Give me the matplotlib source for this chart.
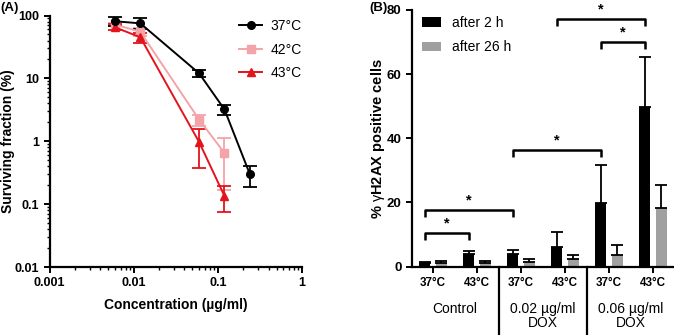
import numpy as np
import matplotlib
matplotlib.use("Agg")
import matplotlib.pyplot as plt
from matplotlib.patches import Patch
from matplotlib.lines import Line2D

plt.rcParams['font.family'] = ['Liberation Sans', 'DejaVu Sans']
plt.rcParams['mathtext.fontset'] = 'custom'
plt.rcParams['mathtext.rm'] = 'Liberation Sans'
plt.rcParams['mathtext.it'] = 'Liberation Sans'

# ---------------- data: panel A ----------------
conc37 = [0.006, 0.012, 0.06, 0.12, 0.24]
sf37 = [81, 75, 12, 3.2, 0.30]
err37 = [12.5, 15, 1.5, 0.55, 0.11]
conc42 = [0.006, 0.012, 0.06, 0.12]
sf42 = [72, 55, 2.2, 0.65]
err42 = [5, 8, 0.45, 0.48]
conc43 = [0.006, 0.012, 0.06, 0.12]
sf43 = [65, 45, 0.97, 0.134]
err43 = [7, 8, 0.6, 0.06]
series_labels = ["37°C", "42°C", "43°C"]

# ---------------- data: panel B ----------------
temp_ticks = ["37°C", "43°C", "37°C", "43°C", "37°C", "43°C"]
group_labels = ["Control", "0.02 µg/ml\nDOX", "0.06 µg/ml\nDOX"]
after2h = [1.3, 3.9, 3.9, 6.2, 19.7, 49.8]
err2h = [0.3, 0.9, 1.3, 4.5, 12.0, 15.6]
after26h = [1.2, 1.0, 1.5, 2.5, 3.6, 18.4]
err26h = [0.6, 0.8, 0.8, 1.2, 3.3, 7.0]
# significance brackets: (bar index 1, bar index 2, height)
brackets = [(0, 1, 10.4), (0, 2, 17.6), (2, 4, 36.3), (4, 5, 70.0), (3, 5, 77.0)]

W, H = 674, 335
fig = plt.figure(figsize=(W / 100, H / 100), dpi=100)

# ================= Panel A =================
axA = fig.add_axes([49.5 / W, (H - 267) / H, 252.5 / W, 251.5 / H])
c37, c42, c43 = "#000000", "#f4a3a8", "#e3141c"
lw = 1.4
ebA = dict(capsize=5, elinewidth=1.3, capthick=1.3)
axA.errorbar(conc42, sf42, yerr=err42, color=c42, marker="s", ms=5.5, lw=lw, **ebA)
axA.errorbar(conc43, sf43, yerr=err43, color=c43, marker="^", ms=5.5, lw=lw, **ebA)
axA.errorbar(conc37, sf37, yerr=err37, color=c37, marker="o", ms=5.5, lw=lw, **ebA)
axA.set_xscale("log")
axA.set_yscale("log")
axA.set_xlim(0.001, 1)
axA.set_ylim(0.01, 100)
axA.set_xticks([0.001, 0.01, 0.1, 1])
axA.set_xticklabels(["0.001", "0.01", "0.1", "1"])
axA.set_yticks([0.01, 0.1, 1, 10, 100])
axA.set_yticklabels(["0.01", "0.1", "1", "10", "100"])
for s in ["top", "right"]:
    axA.spines[s].set_visible(False)
for s in ["left", "bottom"]:
    axA.spines[s].set_linewidth(1.6)
axA.tick_params(which="major", length=4, width=1.4, labelsize=9)
axA.tick_params(which="minor", length=2.5, width=1.0)
for t in axA.get_xticklabels() + axA.get_yticklabels():
    t.set_fontweight("bold")
axA.set_xlabel("Concentration (µg/ml)", fontsize=10, fontweight="bold", labelpad=6)
axA.set_ylabel("Surviving fraction (%)", fontsize=10, fontweight="bold")
axA.yaxis.set_label_coords((15 - 49.5) / 252.5, 0.5)
handles = [Line2D([], [], color=c, marker=m, ms=5.5, lw=lw)
           for c, m in zip([c37, c42, c43], ["o", "s", "^"])]
axA.legend(handles, series_labels, loc="upper left", bbox_to_anchor=(0.70, 1.035),
           frameon=False, fontsize=10, handlelength=1.7, handletextpad=0.6,
           labelspacing=0.68)
fig.text(0 / W, 1 - 8 / H, "(A)", fontsize=9.5, fontweight="bold", va="center", ha="left")

# ================= Panel B =================
axB = fig.add_axes([412 / W, (H - 266.7) / H, 262 / W, 256.9 / H])
x = np.arange(len(after2h))
off = 0.1875
bw = 0.25
axB.bar(x - off, after2h, width=bw, color="black",
        yerr=[np.zeros(len(err2h)), err2h], capsize=4,
        error_kw=dict(elinewidth=1.3, capthick=1.3, ecolor="black"))
axB.bar(x + off, after26h, width=bw, color="#a0a0a0",
        yerr=[np.zeros(len(err26h)), err26h], capsize=4,
        error_kw=dict(elinewidth=1.3, capthick=1.3, ecolor="black"))
axB.set_xlim(-21 / 44, -21 / 44 + 262 / 44)
axB.set_ylim(0, 80)
axB.set_yticks([0, 20, 40, 60, 80])
axB.set_xticks(x)
axB.set_xticklabels(temp_ticks)
for s in ["top", "right"]:
    axB.spines[s].set_visible(False)
for s in ["left", "bottom"]:
    axB.spines[s].set_linewidth(1.6)
axB.tick_params(length=4, width=1.4)
axB.tick_params(axis="y", labelsize=9.5)
axB.tick_params(axis="x", labelsize=8.4)
for t in axB.get_xticklabels() + axB.get_yticklabels():
    t.set_fontweight("bold")
axB.set_ylabel(r"% $\gamma$H2AX positive cells", fontsize=10.5, fontweight="bold")
axB.yaxis.set_label_coords((387 - 412) / 262, 0.5)

# brackets
for i1, i2, yb in brackets:
    xa, xb = i1 - off, i2 - off
    axB.plot([xa, xa, xb, xb], [yb - 2.2, yb, yb, yb - 2.2], color="black",
             lw=1.8, clip_on=False, solid_capstyle="butt")
    axB.text((xa + xb) / 2, yb + 0.8, "*", ha="center", va="bottom",
             fontsize=10.5, fontweight="bold", clip_on=False)

# group separators and labels
trans = axB.get_xaxis_transform()
for xs in [1.5, 3.5]:
    axB.plot([xs, xs], [0, -68 / 256.9], color="black", lw=1.6,
             transform=trans, clip_on=False)
for g, lab in enumerate(group_labels):
    axB.text(2 * g + 0.5, -35 / 256.9, lab, transform=trans, ha="center",
             va="top", fontsize=10, linespacing=1.0)

legB = [Patch(facecolor="black"), Patch(facecolor="#a0a0a0")]
axB.legend(legB, ["after 2 h", "after 26 h"], loc="upper left",
           bbox_to_anchor=(-0.01, 1.025), frameon=False, fontsize=10,
           handlelength=1.4, handleheight=0.7, handletextpad=0.8, labelspacing=0.75)
fig.text(369 / W, 1 - 8 / H, "(B)", fontsize=9.5, fontweight="bold", va="center", ha="left")

fig.savefig("out.png", dpi=100)
